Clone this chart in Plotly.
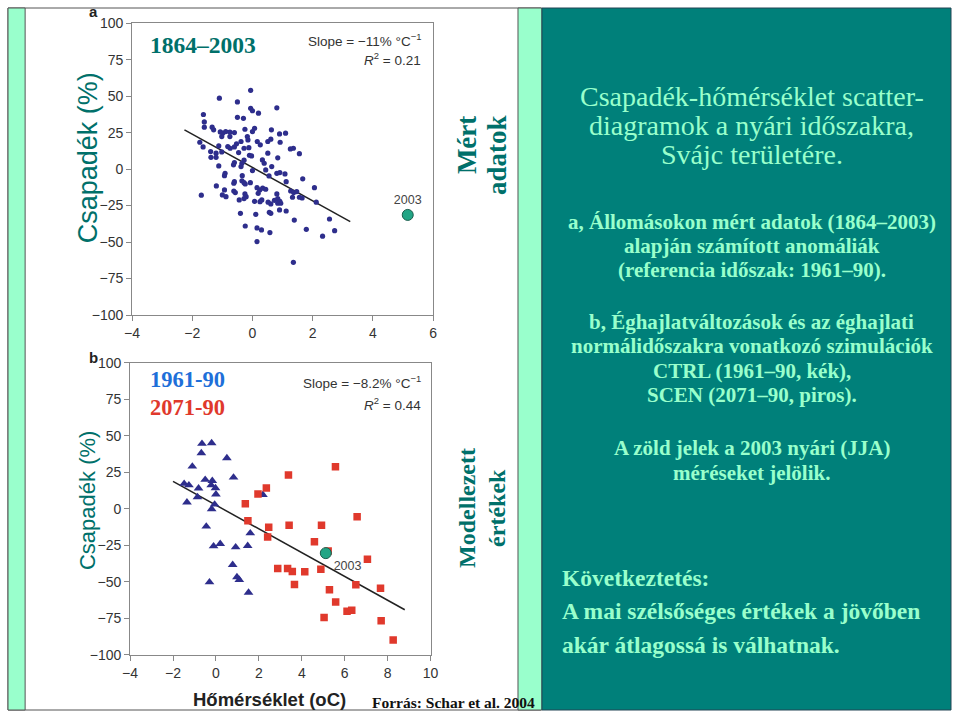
import plotly.graph_objects as go

# ---------------- data ----------------
# Panel a: observed 1864-2003 (temperature anomaly degC, precipitation anomaly %)
obs_x = [-0.06, -1.1, -0.5, 0.81, -0.06, 0.0, 0.2, -1.63, -0.5, -0.3, -1.6, -1.6, -1.34, -1.29,
         -0.25, 0.07, 0.63, 0.0, -1.07, -0.99, -0.89, -0.75, -0.6, 0.9, 1.1, -1.02, -0.75, -0.17,
         -0.15, -0.38, 0.16, 0.51, 0.61, 0.92, -1.75, -0.53, 0.26, -1.12, -1.64, -0.82, -0.74, -0.6,
         -0.28, -0.12, 1.26, 1.36, -1.39, -1.21, -1.02, -0.46, 0.51, 1.56, -0.1, -0.03, -1.38, -1.21,
         0.84, 1.67, -0.28, 0.33, 0.39, -0.6, -0.63, -0.35, -1.12, -0.38, 0.64, 0.44, 0.0, -0.91,
         -0.93, -0.34, 0.81, 0.91, 0.55, 1.08, -0.6, -0.62, -0.35, -0.28, -0.24, -0.07, 1.12, -1.2,
         0.15, 0.24, 0.34, 0.44, -0.93, -0.62, -0.57, 1.27, 1.37, 2.06, 1.47, 0.19, 0.81, -0.25,
         -0.21, -1.0, -0.88, -1.7, 1.56, 1.65, 1.33, -0.28, -0.44, 0.31, 0.25, 0.07, 0.73, 0.84,
         0.91, 0.52, 0.61, 0.84, 0.94, 2.12, 0.9, 1.12, 0.56, 0.61, -0.4, 0.11, 1.39, 2.56, -0.24,
         0.15, 0.3, 1.79, 2.73, 0.58, 2.33, 0.15, 1.36]
obs_y = [54, 48.6, 46, 42, 41.7, 40, 38.3, 37.4, 35.5, 34.8, 32.3, 28.7, 28.7, 26.9,
         27.3, 28, 26.9, 25.7, 25.5, 24.6, 25.7, 25.3, 25, 24.1, 24.6, 22.3, 22.3, 22.3,
         20, 18.9, 18.9, 18.9, 20.5, 18.4, 18.4, 17.3, 16.6, 15.9, 15.2, 15.4, 14.3, 15.2,
         14.3, 14.7, 13.8, 14.3, 12, 10.9, 11.8, 11.3, 10.9, 10.6, 9.5, 9, 8.1, 8.1,
         7.7, -6.7, 6.1, 6.3, 4, 4.5, 2.9, 4, 2.2, 1.7, 1.7, -0.6, -1, -2.9,
         -4.5, -4.5, -2.9, -2.4, -4.7, -3.3, -8.6, -9.7, -8, -9.3, -10.2, -9.3, -8.6, -11.5,
         -12.7, -14.3, -13.1, -13.8, -14.3, -15, -16.1, -15, -16.1, -12.7, -15.4, -16.6, -17, -17,
         -18.9, -17.7, -18.9, -17.9, -19.3, -19.8, -19.3, -20.2, -21.1, -21.1, -22.3, -22.1, -21.4, -20.2,
         -22.1, -22.7, -23.9, -23.4, -23.4, -22.7, -28, -28.7, -29.6, -30.3, -30.3, -31, -34.9, -34.2, -39,
         -40.3, -41.7, -41.3, -42.2, -43.5, -46, -49.7, -63.9]
obs_fit_x = [-2.26, 3.25]
obs_fit_y = [26.9, -36.0]
obs_2003_x = [5.16]
obs_2003_y = [-31.4]

# Panel b: CTRL 1961-90 (triangles) and SCEN 2071-90 (squares)
ctrl_x = [-0.65, -0.2, -0.68, 0.51, -1.1, 0.82, -1.48, -1.26, -0.5, -0.17, -0.22, -0.02, -0.81,
          0.0, -0.86, -1.35, -0.06, -0.2, -0.45, 2.19, 1.6, 0.2, -0.11, 1.48, 0.92, 0.78, 0.98,
          1.09, -0.3, 1.52]
ctrl_y = [44.7, 45.1, 38.3, 34.9, 29.1, 21.6, 17.3, 16.3, 20, 19.3, 16.3, 14.3, 14.1,
          10, 8.1, 4.5, 3.1, -0.1, -12, 9.7, -16.6, -23.9, -25.5, -25.3, -26.2, -38.3, -46.7,
          -48.6, -50.2, -57.3]
scen_x = [3.38, 5.57, 2.35, 1.96, 1.37, 1.49, 2.46, 2.41, 3.41, 4.92, 6.58, 4.59, 5.23, 7.06,
          2.88, 3.34, 3.56, 4.14, 4.89, 3.66, 5.29, 6.52, 7.67, 5.58, 6.11, 6.33, 5.04, 7.7, 8.26]
scen_y = [23.2, 28.9, 14.3, 10.2, 3.5, -8.1, -12.5, -19.3, -11.1, -11.1, -5.4, -22.5, -28.9, -34.4,
          -40.8, -40.8, -42.9, -43.1, -41.3, -51.8, -55.4, -52, -54.3, -63.7, -70.1, -69.4, -74.4,
          -76.7, -89.9]
mod_fit_x = [-2.0, 8.8]
mod_fit_y = [18.9, -69.1]
mod_2003_x = [5.12]
mod_2003_y = [-30.3]

y_ticks = [-100, -75, -50, -25, 0, 25, 50, 75, 100]
xa_ticks = [-4, -2, 0, 2, 4, 6]
xb_ticks = [-4, -2, 0, 2, 4, 6, 8, 10]

title_lines = ["Csapadék-hőmérséklet scatter-", "diagramok a nyári időszakra,", "Svájc területére."]
para_a = ["a, Állomásokon mért adatok (1864–2003)", "alapján számított anomáliák",
          "(referencia időszak: 1961–90)."]
para_b = ["b, Éghajlatváltozások és az éghajlati", "normálidőszakra vonatkozó szimulációk",
          "CTRL (1961–90, kék),", "SCEN (2071–90, piros)."]
para_green = ["A zöld jelek a 2003 nyári (JJA)", "méréseket jelölik."]
conclusion = ["Következtetés:", "A mai szélsőséges értékek a jövőben", "akár átlagossá is válhatnak."]

# ---------------- style ----------------
W, H = 959, 718
# the page shows the figure offset by an 8px body margin and scaled to the window
SX, SY = 959 / 975, 718 / 734
def px(x): return (x / SX - 8) / W
def py(y): return 1 - (y / SY - 8) / H

SANS = "Liberation Sans, Arial, sans-serif"
SERIF = "Liberation Serif, Times New Roman, serif"
TEAL_BG = "#00807A"
LIGHT = "#99FFCC"
TEAL_TXT = "#00706A"
NAVY = "#2E2E8C"
RED = "#E0392C"
GREEN = "#22A585"

fig = go.Figure()

fig.add_trace(go.Scatter(x=obs_fit_x, y=obs_fit_y, mode="lines", line=dict(color="#222", width=1.5),
                         xaxis="x", yaxis="y", showlegend=False, hoverinfo="skip"))
fig.add_trace(go.Scatter(x=obs_x, y=obs_y, mode="markers", marker=dict(color=NAVY, size=5.2),
                         xaxis="x", yaxis="y", showlegend=False))
fig.add_trace(go.Scatter(x=obs_2003_x, y=obs_2003_y, mode="markers+text", text=["2003"],
                         textposition="top center", textfont=dict(family=SANS, size=12.5, color="#444"),
                         marker=dict(color=GREEN, size=11, line=dict(color="#1c5e4e", width=1)),
                         xaxis="x", yaxis="y", showlegend=False))

fig.add_trace(go.Scatter(x=mod_fit_x, y=mod_fit_y, mode="lines", line=dict(color="#222", width=1.5),
                         xaxis="x2", yaxis="y2", showlegend=False, hoverinfo="skip"))
fig.add_trace(go.Scatter(x=ctrl_x, y=ctrl_y, mode="markers",
                         marker=dict(color=NAVY, size=8.5, symbol="triangle-up"),
                         xaxis="x2", yaxis="y2", showlegend=False))
fig.add_trace(go.Scatter(x=scen_x, y=scen_y, mode="markers",
                         marker=dict(color=RED, size=7.5, symbol="square"),
                         xaxis="x2", yaxis="y2", showlegend=False))
fig.add_trace(go.Scatter(x=mod_2003_x, y=mod_2003_y, mode="markers+text", text=["2003"],
                         textposition="bottom right", textfont=dict(family=SANS, size=12.5, color="#444"),
                         marker=dict(color=GREEN, size=11, line=dict(color="#1c5e4e", width=1)),
                         xaxis="x2", yaxis="y2", showlegend=False))

axis_common = dict(showgrid=False, zeroline=False, showline=True, linecolor="#888", linewidth=1,
                   mirror=True, ticks="outside", ticklen=5, tickcolor="#888",
                   tickfont=dict(family=SANS, size=14, color="#333"))

fig.update_layout(
    width=W, height=H, margin=dict(l=0, r=0, t=0, b=0),
    paper_bgcolor="white", plot_bgcolor="white",
    xaxis=dict(domain=[px(132), px(433)], range=[-4, 6], tickvals=xa_ticks, anchor="y", **axis_common),
    yaxis=dict(domain=[py(315), py(23)], range=[-100, 100], tickvals=y_ticks, anchor="x", **axis_common),
    xaxis2=dict(domain=[px(130), px(430.5)], range=[-4, 10], tickvals=xb_ticks, anchor="y2", **axis_common),
    yaxis2=dict(domain=[py(655), py(363)], range=[-100, 100], tickvals=y_ticks, anchor="x2", **axis_common),
)

shapes = [
    dict(type="rect", xref="paper", yref="paper", x0=0, x1=px(541), y0=0, y1=1,
         line=dict(color="#555", width=1), fillcolor="rgba(0,0,0,0)", layer="below"),
    dict(type="rect", xref="paper", yref="paper", x0=0, x1=px(25), y0=0, y1=1,
         line=dict(color="#555", width=1), fillcolor=LIGHT, layer="below"),
    dict(type="rect", xref="paper", yref="paper", x0=px(518), x1=px(542), y0=0, y1=1,
         line=dict(color="#555", width=1), fillcolor=LIGHT, layer="below"),
    dict(type="rect", xref="paper", yref="paper", x0=px(542), x1=1, y0=0, y1=1,
         line=dict(color="#245", width=1), fillcolor=TEAL_BG, layer="below"),
]
fig.update_layout(shapes=shapes)

ann = []
def A(text, x, y, size, color, family=SANS, xanchor="center", yanchor="middle", angle=0, align="center"):
    ann.append(dict(text=text, x=px(x), y=py(y), xref="paper", yref="paper", showarrow=False,
                    xanchor=xanchor, yanchor=yanchor, textangle=angle, align=align,
                    font=dict(family=family, size=size, color=color)))

def lines(items, x, y0, step, size, bold=True, xanchor="center"):
    for i, t in enumerate(items):
        A(f"<b>{t}</b>" if bold else t, x, y0 + i * step, size, LIGHT, family=SERIF, xanchor=xanchor)

# panel letters
A("<b>a</b>", 93, 11, 15, "#222")
A("<b>b</b>", 93, 357, 15, "#222")
# y-axis titles
A("Csapadék (%)", 88, 158, 27, TEAL_TXT, angle=-90)
A("Csapadék (%)", 88, 501, 22, TEAL_TXT, angle=-90)
# in-plot headings
A("<b>1864–2003</b>", 148, 45, 23.5, TEAL_TXT, family=SERIF, xanchor="left")
A("<b>1961-90</b>", 148, 380, 22.5, "#1E6FD9", family=SERIF, xanchor="left")
A("<b>2071-90</b>", 148, 408, 22.5, RED, family=SERIF, xanchor="left")
# slope / R2
A("Slope = −11% °C<sup>−1</sup>", 423, 40, 13.5, "#333", xanchor="right")
A("<i>R</i><sup>2</sup> = 0.21", 423, 59, 13.5, "#333", xanchor="right")
A("Slope = −8.2% °C<sup>−1</sup>", 423, 382, 13.5, "#333", xanchor="right")
A("<i>R</i><sup>2</sup> = 0.44", 423, 404, 13.5, "#333", xanchor="right")
# side labels (one annotation per rotated line)
A("<b>Mért</b>", 467, 145, 27, TEAL_TXT, family=SERIF, angle=-90)
A("<b>adatok</b>", 497, 155, 27, TEAL_TXT, family=SERIF, angle=-90)
A("<b>Modellezett</b>", 467, 508, 24, TEAL_TXT, family=SERIF, angle=-90)
A("<b>értékek</b>", 497, 508, 24, TEAL_TXT, family=SERIF, angle=-90)
# bottom
A("<b>Hőmérséklet (oC)</b>", 269, 700, 18.5, "#222")
A("<b>Forrás: Schar et al. 2004</b>", 370, 703, 15.5, "#111", family=SERIF, xanchor="left")

# right text panel
lines(title_lines, 752, 96, 29, 28, bold=False)
lines(para_a, 752, 222, 24, 21)
lines(para_b, 752, 322, 24.3, 21)
lines(para_green, 752, 448, 25, 21)
A("<b>" + conclusion[0] + "</b>", 560, 578, 23.5, LIGHT, family=SERIF, xanchor="left")
A("<b>" + conclusion[1] + "</b>", 560, 611, 23.5, LIGHT, family=SERIF, xanchor="left")
A("<b>" + conclusion[2] + "</b>", 560, 645, 23.5, LIGHT, family=SERIF, xanchor="left")

fig.update_layout(annotations=ann)
fig.write_html("out.html")
